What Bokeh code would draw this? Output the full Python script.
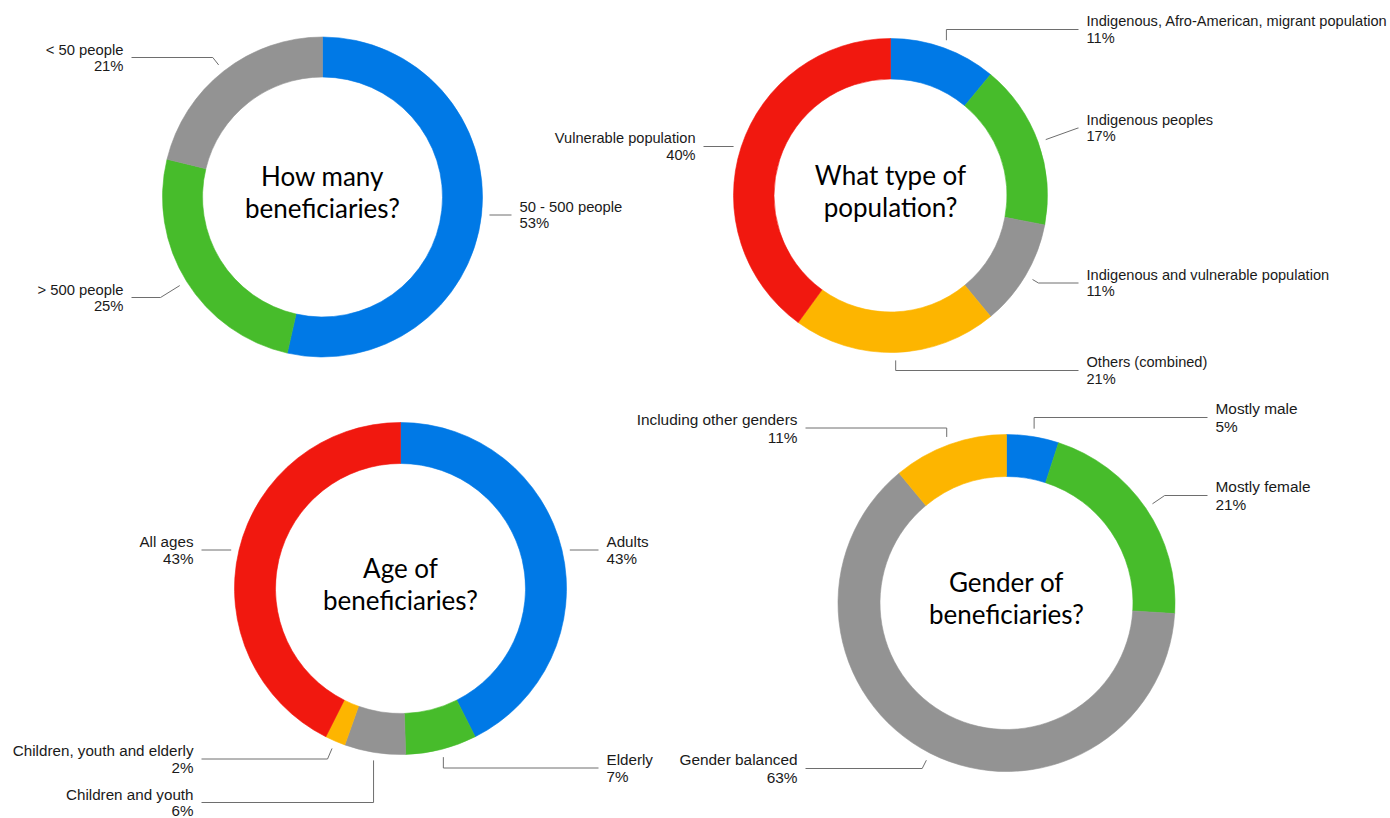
import math
from bokeh.plotting import figure
from bokeh.models import Range1d
from bokeh.core.properties import value
from bokeh.embed import file_html
from bokeh.resources import INLINE

# ---------------- data ----------------
palette = ["#0079e6", "#47bc2b", "#939393", "#fdb500", "#f1180f"]

c1_title = ["How many", "beneficiaries?"]
c1_labels = ["50 - 500 people", "> 500 people", "< 50 people"]
c1_values = [53, 25, 21]

c2_title = ["What type of", "population?"]
c2_labels = ["Indigenous, Afro-American, migrant population", "Indigenous peoples",
             "Indigenous and vulnerable population", "Others (combined)", "Vulnerable population"]
c2_values = [11, 17, 11, 21, 40]

c3_title = ["Age of", "beneficiaries?"]
c3_labels = ["Adults", "Elderly", "Children and youth", "Children, youth and elderly", "All ages"]
c3_values = [43, 7, 6, 2, 43]

c4_title = ["Gender of", "beneficiaries?"]
c4_labels = ["Mostly male", "Mostly female", "Gender balanced", "Including other genders"]
c4_values = [5, 21, 63, 11]

# ---------------- layout (pixels, y downward) ----------------
W, H = 1390, 818
charts = [
    dict(title=c1_title, labels=c1_labels, values=c1_values, cx=322, cy=196.5, ro=160, ri=120,
         fs=14.8, sp=16,
         lay=[("R", 519, 214.5, "h", 16), ("L", 123, 297, "r", 16), ("L", 123, 57, "r", 16)]),
    dict(title=c2_title, labels=c2_labels, values=c2_values, cx=890, cy=195, ro=157, ri=116.5,
         fs=14.6, sp=16.5,
         lay=[("R", 1086, 29, "v", 16.5), ("R", 1086, 127.5, "r", 16.5), ("R", 1086, 282.5, "r", 16.5),
              ("R", 1086, 370, "v", 16.5), ("L", 695, 146, "h", 16.5)]),
    dict(title=c3_title, labels=c3_labels, values=c3_values, cx=400, cy=588, ro=166, ri=125,
         fs=15.2, sp=17,
         lay=[("R", 606, 549.5, "h", 17), ("R", 606, 767.5, "v", 17), ("L", 193, 802, "v", 16),
              ("L", 193, 758.5, "r", 17), ("L", 193, 549.5, "h", 17)]),
    dict(title=c4_title, labels=c4_labels, values=c4_values, cx=1006, cy=602.5, ro=168.5, ri=126.5,
         fs=15.4, sp=18,
         lay=[("R", 1215, 417, "v", 18), ("R", 1215, 495, "r", 18), ("L", 797, 768, "r", 18),
              ("L", 797, 427.5, "v", 18)]),
]


def Y(y):
    return H - y


p = figure(width=W, height=H, x_range=Range1d(0, W), y_range=Range1d(0, H),
           x_axis_type=None, y_axis_type=None, output_backend="svg",
           toolbar_location=None, min_border=0)
p.grid.visible = False
p.outline_line_color = None
p.background_fill_color = "white"
p.border_fill_color = "white"

LINE_COLOR = "#6e6e6e"
TEXT_COLOR = "#1a1a1a"
GAP = 8

for ch in charts:
    vals = ch["values"]
    tot = float(sum(vals))
    cx, cy, ro, ri = ch["cx"], ch["cy"], ch["ro"], ch["ri"]
    cum = 0.0
    starts, ends, colors, mids = [], [], [], []
    for i, v in enumerate(vals):
        a = cum / tot
        b = (cum + v) / tot
        cum += v
        starts.append(math.pi / 2 - 2 * math.pi * b)
        ends.append(math.pi / 2 - 2 * math.pi * a)
        colors.append(palette[i])
        mids.append(math.pi * (a + b))
    n = len(vals)
    p.annular_wedge(x=[cx] * n, y=[Y(cy)] * n, inner_radius=ri, outer_radius=ro,
                    start_angle=starts, end_angle=ends, direction="anticlock",
                    fill_color=colors, line_color=colors, line_width=0.6)

    # center title
    p.text(x=[cx, cx], y=[Y(cy - 21), Y(cy + 11)], text=ch["title"],
           text_font=value("Lato"), text_font_size=value("26px"),
           text_align="center", text_baseline="middle", text_color="#000000")

    # labels and leaders
    for i, (side, lx, lcy, mode, sp) in enumerate(ch["lay"]):
        th = mids[i]
        ux, uy = math.sin(th), -math.cos(th)
        R = ro + 8
        sx, sy = cx + R * ux, cy + R * uy
        end_x = lx - GAP if side == "R" else lx + GAP
        if mode == "h":
            xs, ys = [sx, end_x], [lcy, lcy]
        elif mode == "v":
            xs, ys = [sx, sx, end_x], [sy, lcy, lcy]
        else:
            ex = sx + (lcy - sy) * (ux / uy)
            xs, ys = [sx, ex, end_x], [sy, lcy, lcy]
        p.line(x=xs, y=[Y(v) for v in ys], line_color=LINE_COLOR, line_width=1)
        align = "left" if side == "R" else "right"
        pct = "%d%%" % vals[i]
        p.text(x=[lx, lx], y=[Y(lcy - sp / 2), Y(lcy + sp / 2)],
               text=[ch["labels"][i], pct],
               text_font=value("Liberation Sans"), text_font_size=value("%.1fpx" % ch["fs"]),
               text_align=align, text_baseline="middle", text_color=TEXT_COLOR)

open("out.html", "w").write(file_html(p, INLINE))
